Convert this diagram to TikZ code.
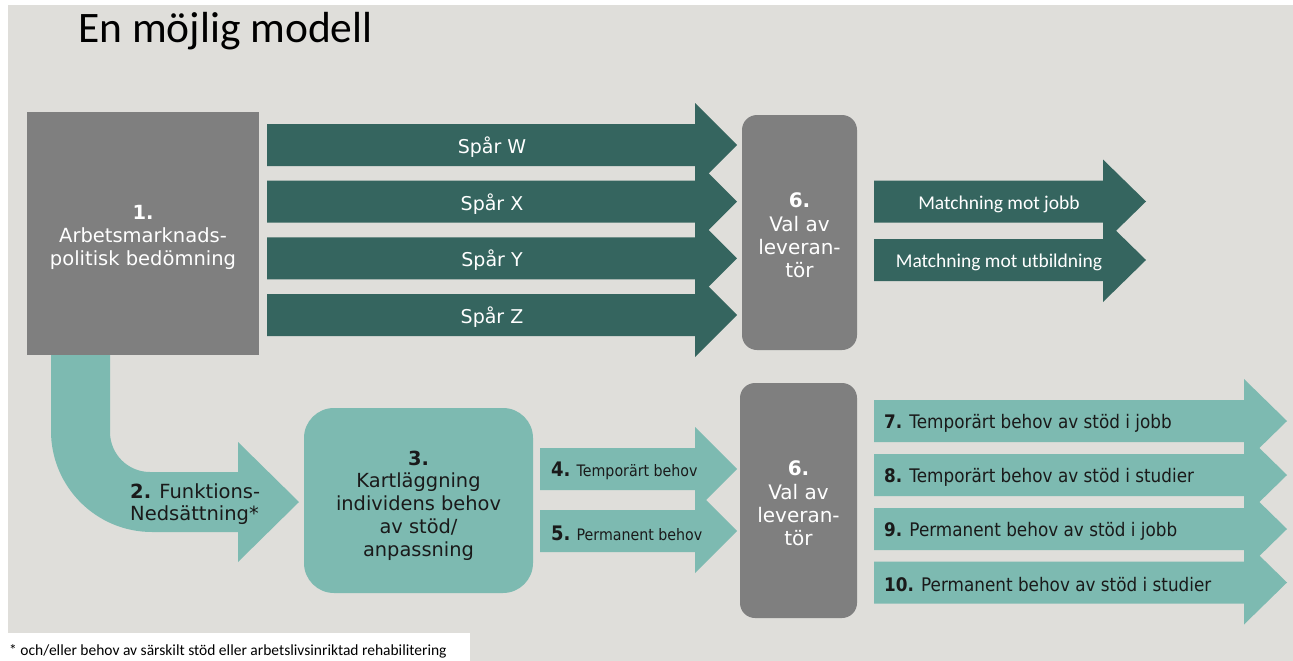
\documentclass[tikz,border=0pt]{standalone}
\usepackage{fontspec}
\setmainfont{DejaVu Sans}
\newfontfamily\calibri{Carlito}
\newfontfamily\tahoma[FakeStretch=0.9]{DejaVu Sans}

\definecolor{bggray}{HTML}{DFDEDA}
\definecolor{boxgray}{HTML}{7F7F7F}
\definecolor{darkteal}{HTML}{35655F}
\definecolor{lightteal}{HTML}{7DBAB1}
\definecolor{inkdark}{HTML}{1A1A1A}

% block arrow: fill, x start, x head, x tip, y centre
\newcommand{\blockarrow}[5]{%
  \fill[#1] (#2,#5-21) -- (#3,#5-21) -- (#3,#5-42) -- (#4,#5) -- (#3,#5+42) -- (#3,#5+21) -- (#2,#5+21) -- cycle;}

\begin{document}
\begin{tikzpicture}[x=1pt,y=-1pt,
  graybox/.style={fill=boxgray, inner sep=0pt},
  valbox/.style={graybox, rounded corners=15, minimum height=235},
  tealbox/.style={fill=lightteal, inner sep=0pt, rounded corners=30},
  boxtext/.style={text=white, align=center, inner sep=0pt},
  valtext/.style={boxtext, font=\fontsize{20}{23.3}\selectfont},
  spartext/.style={text=white, inner sep=0pt, font=\fontsize{19}{23}\selectfont},
  matchtext/.style={text=white, inner sep=0pt, font=\calibri\fontsize{19.5}{23}\selectfont},
  needtext/.style={text=inkdark, inner sep=0pt, anchor=west, font=\tahoma\fontsize{18.7}{22}\selectfont}]

\useasboundingbox (0,0) rectangle (1293,661);
\fill[white] (0,0) rectangle (1293,661);
\fill[bggray] (8,5) rectangle (1293,661);
\fill[white] (0,633) rectangle (470,661); % footnote box

\node[anchor=base west, inner sep=0pt, font=\calibri\fontsize{43.5}{50}\selectfont] (title) at (78,43) {En möjlig modell};

% 1. bedomning
\node[graybox, minimum width=232, minimum height=243] (bedom) at (143,233.5) {};
\node[boxtext, font=\fontsize{19.5}{23}\selectfont] (bedomtext) at ([yshift=-4pt]bedom.center)
  {\textbf{1.}\\Arbetsmarknads-\\politisk bedömning};

% spar W-Z
\foreach \yc/\lab in {145/W, 201.7/X, 258.3/Y, 315/Z}{
  \blockarrow{darkteal}{267}{695}{737}{\yc}
  \node[spartext] (spar\lab) at (492,\yc+2) {Spår \lab};
}

% 6. upper
\node[valbox, minimum width=115] (valtop) at (799.5,232.5) {};
\node[valtext] (valtoptext) at ([yshift=-3pt]valtop.center) {\textbf{6.}\\Val av\\leveran-\\tör};

\blockarrow{darkteal}{874}{1103}{1146}{201.5}
\node[matchtext] (matchjobb) at (999,204) {Matchning mot jobb};
\blockarrow{darkteal}{874}{1103}{1146}{260}
\node[matchtext] (matchutb) at (999,262.5) {Matchning mot utbildning};

% 2. bent arrow
\fill[lightteal] (51,355) -- (51,431) arc[start angle=180, end angle=90, radius=101] -- (238,532) -- (238,562)
  -- (299,502) -- (238,442) -- (238,472) -- (150,472) arc[start angle=90, end angle=180, radius=40] -- (110,355) -- cycle;
\node[anchor=west, align=left, text=inkdark, inner sep=0pt, font=\fontsize{19.5}{22}\selectfont] (funk) at (130,504.5)
  {\textbf{2.} Funktions-\\Nedsättning*};

% 3. kartlaggning
\node[tealbox, minimum width=229, minimum height=185] (kart) at (418.5,500.5) {};
\node[boxtext, text=inkdark, font=\fontsize{19.4}{22.7}\selectfont] (karttext) at ([yshift=-5pt]kart.center)
  {\textbf{3.}\\Kartläggning\\individens behov\\av stöd/\\anpassning};

% 4. and 5.
\blockarrow{lightteal}{540}{695}{737}{469}
\node[needtext, font=\tahoma\fontsize{15.8}{17}\selectfont] (temp) at (551,471)
  {{\fontsize{20}{20}\selectfont\textbf{4.}} Temporärt behov};
\blockarrow{lightteal}{540}{695}{737}{531}
\node[needtext, font=\tahoma\fontsize{15.8}{17}\selectfont] (perm) at (551,533)
  {{\fontsize{20}{20}\selectfont\textbf{5.}} Permanent behov};

% 6. lower
\node[valbox, minimum width=117] (valbot) at (798.5,500.5) {};
\node[valtext] (valbottext) at ([yshift=-3pt]valbot.center) {\textbf{6.}\\Val av\\leveran-\\tör};

% 7-10
\foreach \yc/\nr/\txt in {421/7/Temporärt behov av stöd i jobb, 475/8/Temporärt behov av stöd i studier,
    529/9/Permanent behov av stöd i jobb, 582.5/10/Permanent behov av stöd i studier}{
  \blockarrow{lightteal}{874}{1244}{1287}{\yc}
  \node[needtext] (need\nr) at (884,\yc+2) {\textbf{\nr.} \txt};
}

\node[anchor=west, inner sep=0pt, font=\calibri\fontsize{15.5}{18}\selectfont] (note) at (9,651)
  {* och/eller behov av särskilt stöd eller arbetslivsinriktad rehabilitering};

\end{tikzpicture}
\end{document}
